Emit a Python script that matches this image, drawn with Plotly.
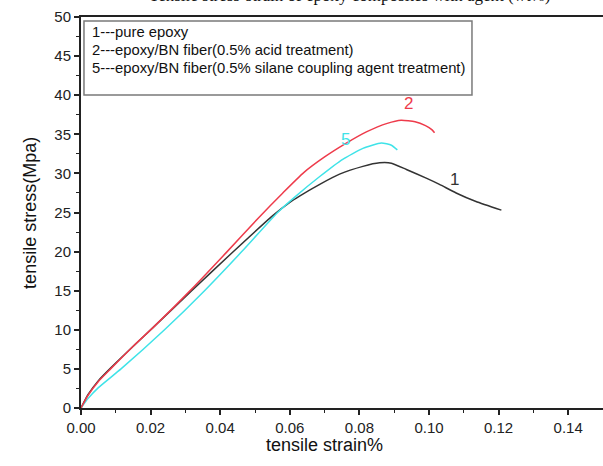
import plotly.graph_objects as go

# ---- data (strain, stress) ----
strain_1 = [0, 0.002, 0.005, 0.0085, 0.015, 0.0212, 0.0318, 0.0428, 0.0551, 0.0600,
            0.0628, 0.0686, 0.0743, 0.081, 0.0858, 0.0892, 0.0935, 0.0992, 0.103,
            0.1078, 0.1135, 0.1208]
stress_1 = [0, 1.7, 3.5, 5.1, 7.9, 10.5, 15.0, 19.6, 24.6, 26.3,
            27.1, 28.6, 29.9, 30.9, 31.35, 31.3, 30.5, 29.4, 28.6,
            27.5, 26.4, 25.3]

strain_2 = [0, 0.002, 0.005, 0.0085, 0.015, 0.0212, 0.0318, 0.0418, 0.0514, 0.058,
            0.064, 0.070, 0.076, 0.082, 0.088, 0.092, 0.096, 0.099, 0.1008, 0.1016]
stress_2 = [0, 1.6, 3.4, 5.0, 7.9, 10.5, 15.2, 19.9, 24.5, 27.5,
            30.1, 32.1, 33.8, 35.3, 36.4, 36.8, 36.6, 36.1, 35.6, 35.2]

strain_5 = [0, 0.002, 0.005, 0.0115, 0.024, 0.0355, 0.0462, 0.0565, 0.0615,
            0.0686, 0.0752, 0.081, 0.0863, 0.0892, 0.0909]
stress_5 = [0, 1.2, 2.6, 5.0, 10.0, 15.0, 20.0, 25.0, 27.0,
            29.6, 31.8, 33.2, 33.9, 33.6, 33.0]

legend_lines = ["1---pure epoxy",
                "2---epoxy/BN fiber(0.5% acid treatment)",
                "5---epoxy/BN fiber(0.5% silane coupling agent treatment)"]
curve_labels = ["1", "2", "5"]
label_x = [0.1072, 0.094, 0.0759]
label_y = [29.2, 39.0, 34.3]

c1, c2, c5 = "#333333", "#ee3b4b", "#3fe3e8"

fig = go.Figure()
fig.add_trace(go.Scatter(x=strain_1, y=stress_1, mode="lines",
                         line=dict(color=c1, width=1.5, shape="spline", smoothing=0.5)))
fig.add_trace(go.Scatter(x=strain_5, y=stress_5, mode="lines",
                         line=dict(color=c5, width=1.5, shape="spline", smoothing=0.5)))
fig.add_trace(go.Scatter(x=strain_2, y=stress_2, mode="lines",
                         line=dict(color=c2, width=1.5, shape="spline", smoothing=0.5)))

font = "Liberation Sans, Arial, sans-serif"

annotations = []
for t, x, y, c in zip(curve_labels, label_x, label_y, [c1, c2, c5]):
    annotations.append(dict(x=x, y=y, xref="x", yref="y", text=t, showarrow=False,
                            font=dict(family=font, size=17, color=c)))

leg_y = [0.9616, 0.9156, 0.8696]
for t, y in zip(legend_lines, leg_y):
    annotations.append(dict(x=0.0172, y=y, xref="paper", yref="paper", text=t,
                            showarrow=False, xanchor="left", yanchor="middle",
                            font=dict(family=font, size=14.8, color="#111111")))

# axis titles
annotations.append(dict(x=0.467, y=-0.1253, xref="paper", yref="paper",
                        text="tensile strain%", showarrow=False,
                        font=dict(family=font, size=18, color="#111111")))
annotations.append(dict(x=-0.1207, y=0.499, xref="paper", yref="paper",
                        text="tensile stress(Mpa)", showarrow=False, textangle=-90,
                        font=dict(family=font, size=18, color="#111111")))
# title (cut off at top of image, as in the reference)
annotations.append(dict(x=0.515, y=1, xref="paper", yref="paper", yshift=10,
                        text="Tensile stress-strain of epoxy composites with agent (wt%)",
                        showarrow=False, yanchor="bottom",
                        font=dict(family="Liberation Serif, Times New Roman, serif",
                                  size=17, color="#111111")))

fig.update_layout(
    width=603, height=466,
    margin=dict(l=81, r=0, t=17, b=58),
    paper_bgcolor="white", plot_bgcolor="white",
    showlegend=False,
    annotations=annotations,
    shapes=[dict(type="rect", xref="paper", yref="paper",
                 x0=0.0057, x1=0.749, y0=0.8005, y1=0.9898,
                 line=dict(color="#7a7a7a", width=1.5), fillcolor="rgba(0,0,0,0)")],
)
fig.update_xaxes(range=[0, 0.15], dtick=0.02, tickformat=".2f",
                 showgrid=False, zeroline=False,
                 showline=True, linecolor="#222222", linewidth=2, mirror=True,
                 ticks="outside", ticklen=5, tickwidth=1.5, tickcolor="#222222",
                 minor=dict(dtick=0.01, ticks="outside", ticklen=3, tickcolor="#222222", tickwidth=1.2),
                 tickfont=dict(family=font, size=15, color="#222222"))
fig.update_yaxes(range=[0, 50], dtick=5,
                 showgrid=False, zeroline=False,
                 showline=True, linecolor="#222222", linewidth=2, mirror=False,
                 ticks="outside", ticklen=5, tickwidth=1.5, tickcolor="#222222",
                 minor=dict(dtick=2.5, ticks="outside", ticklen=3, tickcolor="#222222", tickwidth=1.2),
                 tickfont=dict(family=font, size=15, color="#222222"))

fig.write_html("out.html", config={"displayModeBar": False},
               post_script="document.body.style.margin='0px';document.body.style.overflow='hidden';")
